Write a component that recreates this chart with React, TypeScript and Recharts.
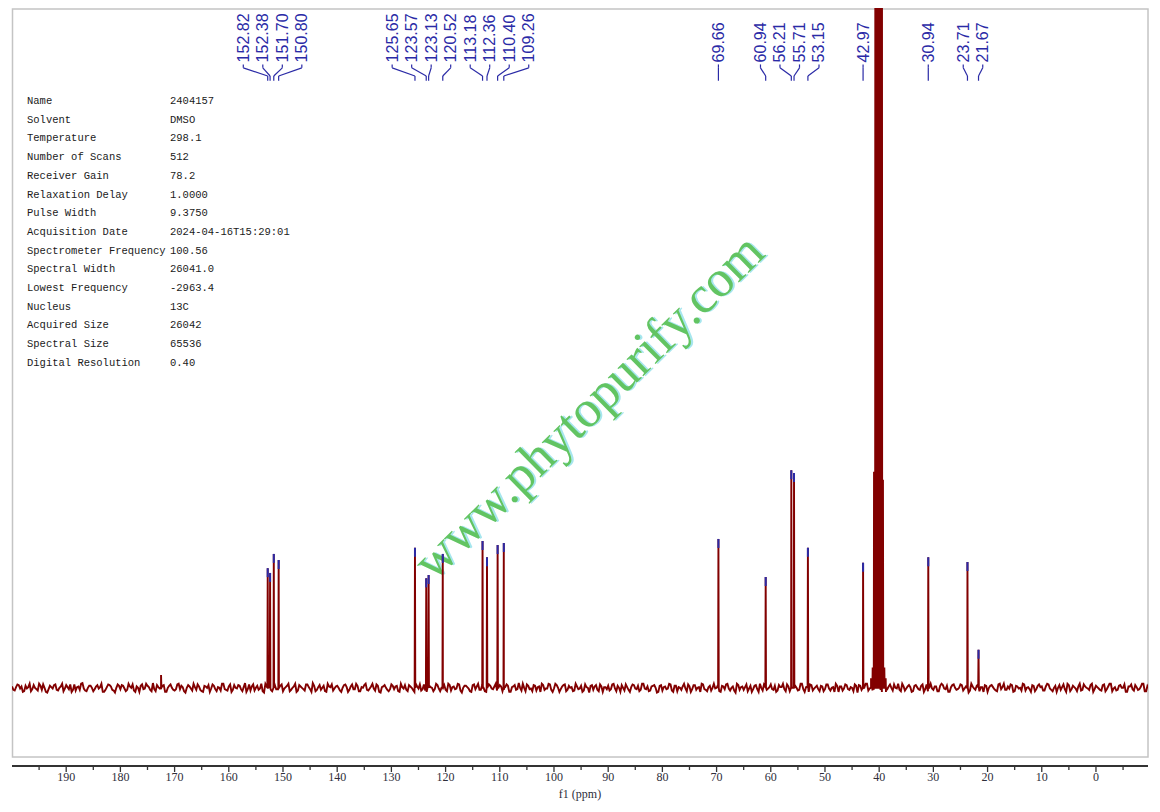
import React from 'react';
import { LineChart, Line, XAxis, YAxis, ReferenceDot, ReferenceLine } from 'recharts';

// ---- data ----
const PEAK_PPM = [152.82, 152.38, 151.70, 150.80, 125.65, 123.57, 123.13, 120.52, 113.18, 112.36, 110.40, 109.26, 69.66, 60.94, 56.21, 55.71, 53.15, 42.97, 30.94, 23.71, 21.67];
const PEAK_HEIGHT = [176, 169, 197, 188, 206, 161, 166, 197, 216, 192, 210, 213, 219, 163, 320, 316, 206, 184, 192, 185, 56];

const OTHER_PPM = [172.5];
const OTHER_HEIGHT = [19];

const SOLVENT_PPM = [41.5, 41.2, 40.95, 40.7, 40.5, 40.35, 40.22, 40.05, 39.9, 39.7, 39.5, 39.3, 39.05, 38.8];
const SOLVENT_HEIGHT = [14, 30, 318, 1500, 1500, 1500, 118, 1500, 1500, 1500, 1500, 306, 30, 14];

// baseline noise, first set every 0.5 ppm from 200 down to -10
const NOISE_A_START = 200;
const NOISE_STEP = 0.5;
const NOISE_A = [
  2, -4, 5, -1, -6, 3, 1, -5, 4, -2, 6, -3, 0, -7, 3, -1, 5, -4, 2, -5,
  4, -2, -6, 5, 1, -3, 7, -4, 0, 3, -5, 2, -1, 6, -6, 1, 4, -3, -7, 5,
  -2, 3, -5, 6, 0, -4, 2, -6, 5, -1, 3, -3, 7, -5, 1, -2, 4, -6, 3, 0,
  -4, 5, -2, 1, -7, 4, -1, 6, -3, 2, -5, 3, 0, -6, 5, -2, 1, -4, 6, -3,
  2, -6, 4, -1, 3, -5, 7, -2, -4, 5, 0, -3, 6, -7, 2, 1, -5, 4, -2, 3,
  -5, 1, 6, -3, 2, -6, 4, 0, -4, 5, -2, 7, -5, 1, -3, 3, -6, 2, 5, -1,
  3, -4, 0, 5, -6, 2, -2, 6, -5, 1, 4, -3, -1, 6, -4, 3, -7, 2, 0, -5,
  5, -2, 3, -6, 1, 4, -5, 2, -3, 6, -1, -4, 5, -6, 3, 0, -2, 4, -5, 1,
  -3, 6, -4, 2, -1, 5, -7, 3, 1, -5, 4, -2, 6, -3, 0, -6, 5, -1, 2, -4,
  4, -5, 1, 3, -6, 2, -3, 7, -4, 0, 5, -2, -5, 3, 1, -6, 4, -1, 6, -3,
  -1, 4, -6, 2, 5, -3, 0, -5, 6, -2, 3, -4, 1, -7, 4, 2, -3, 5, -6, 1,
  3, -2, 6, -5, 0, 4, -4, 1, -6, 5, -1, 3, -3, 6, -2, -5, 2, 4, -7, 3,
  -4, 2, -1, 5, -6, 3, 1, -3, 6, -5, 2, -2, 4, 0, -6, 5, -3, 1, -4, 6,
  0, -5, 3, -2, 6, -4, 2, -7, 4, 1, -3, 5, -1, -6, 3, -2, 6, -4, 2, -1,
  5, -3, -6, 4, 1, -2, 5, -5, 0, 3, -4, 6, -2, 1, -6, 4, -1, 3, -5, 2,
  -2, 5, -4, 1, 6, -6, 2, -1, 4, -3, 0, 5, -7, 3, -2, 6, -4, 1, -3, 4,
  1, -6, 3, -2, 5, -4, 0, 6, -5, 2, -1, 4, -6, 3, 1, -3, 5, -2, -5, 6,
  -3, 2, -5, 6, -1, 3, -6, 4, 0, -2, 5, -4, 2, -7, 6, -1, 3, -5, 1, 4,
  -6, 3, 1, -4, 5, -2, 6, -3, -1, 4, -5, 2, 0, 6, -4, 1, -6, 3, -2, 5,
  2, -4, 6, -1, -5, 3, 0, -3, 5, -6, 4, -2, 1, -5, 6, -3, 2, -1, 4, -6,
  3, -1, -4, 5, -2, 6, -5, 1, -3, 4, 0, -6, 2, 5, -4, 1, -2, 6, -5, 3,
  0,
];
// second set, every 0.5 ppm from 199.75 down to -9.75
const NOISE_B_START = 199.75;
const NOISE_B = [
  -3, 1, 4, 2, -5, -1, 6, -2, 0, -4, 3, 5, -6, -2, 1, 4, -3, 0, 6, -1,
  1, 5, -3, -4, 2, 6, -1, -5, 3, 0, -2, 4, 1, -6, -3, 5, 2, -4, 0, 3,
  4, -1, -3, 2, 5, -6, 0, 3, -2, 6, 1, -5, -2, 4, -1, 3, -6, 0, 5, -3,
  -2, 6, 3, -5, 0, 2, -4, 1, 5, -3, -6, 2, 4, -1, 3, -5, 0, 6, -2, -4,
  5, -3, 0, 4, -2, 1, -6, 5, 2, -4, 3, -1, -5, 6, 0, -3, 4, -2, 1, 5,
  -1, 3, -5, 0, 6, -4, 2, -2, 5, 1, -6, 3, -3, 4, 0, -5, 6, 1, -4, 2,
  0, -6, 4, 1, -3, 5, -2, 3, -5, 0, 6, -4, 2, -1, 5, -6, 1, 4, -3, -2,
  3, 2, -5, 6, -1, -3, 4, 0, -6, 2, 5, -2, -4, 3, 1, -5, 6, -1, 0, 4,
  -5, 4, 1, -2, 6, -4, 0, 3, -1, -6, 5, 2, -3, 4, -5, 1, 3, -2, 6, 0,
  2, -3, 5, -6, 1, 4, -2, 0, 6, -5, 3, -1, 4, -4, 2, 6, -3, -1, 5, -6,
  6, 0, -2, 4, -5, 3, 1, -4, 2, -1, -6, 5, 0, 3, -3, 4, -5, 2, 1, -2,
  -4, 5, -1, 3, -6, 0, 5, -3, 1, 4, -2, -5, 6, -1, 2, -4, 3, 0, -6, 4,
  1, -2, 6, -4, 3, -5, 0, 2, -1, 5, -6, 4, -3, 1, 6, -2, -5, 3, 0, -1,
  4, -6, 2, 5, -1, 0, -4, 6, -3, 2, 1, -5, 3, -2, 4, -6, 0, 5, -3, 1,
  -2, 3, -4, 1, 6, -5, 2, -1, 4, 0, -3, 6, -6, 2, 5, -4, 1, -2, 3, -5,
  5, -1, 0, -6, 3, 2, -4, 5, -2, 1, -5, 3, 4, -3, 0, 6, -1, -4, 2, 5,
  -3, 4, -6, 2, 0, 5, -1, -3, 6, -4, 2, 1, -5, 4, -2, 3, -6, 5, 0, -1,
  2, -5, 3, 4, -2, -6, 1, 5, -3, 0, 4, -1, 6, -4, 2, -3, 5, 1, -6, 3,
  0, 4, -2, -5, 6, 1, -3, 2, 5, -6, 3, -1, -4, 5, 0, -2, 4, -5, 3, 1,
  -4, 2, 5, -3, 0, -6, 4, 1, -2, 6, -5, 3, -1, 2, -4, 5, 0, -3, 6, -2,
  1, -3, 4, -5, 2, 6, -1, -4, 3, 0, 5, -6, 2, -2, 4, -3, 1, 6, -5, 0,
];

const X_TICKS = [195, 190, 185, 180, 175, 170, 165, 160, 155, 150, 145, 140, 135, 130, 125, 120, 115, 110, 105, 100, 95, 90, 85, 80, 75, 70, 65, 60, 55, 50, 45, 40, 35, 30, 25, 20, 15, 10, 5, 0, -5];

const PARAM_NAMES = ['Name', 'Solvent', 'Temperature', 'Number of Scans', 'Receiver Gain', 'Relaxation Delay', 'Pulse Width', 'Acquisition Date', 'Spectrometer Frequency', 'Spectral Width', 'Lowest Frequency', 'Nucleus', 'Acquired Size', 'Spectral Size', 'Digital Resolution'];
const PARAM_VALUES = ['2404157', 'DMSO', '298.1', '512', '78.2', '1.0000', '9.3750', '2024-04-16T15:29:01', '100.56', '26041.0', '-2963.4', '13C', '26042', '65536', '0.40'];

// ---- styles ----
const RED = '#820000';
const BLUE = '#2a2aa6';
const LABEL_GAP_PPM = 3.6;
const SERIF = "'Liberation Serif', 'Times New Roman', serif";

// ---- build spectrum ----
type Pt = { ppm: number; v: number };
function buildSpectrum(): Pt[] {
  const pts: Pt[] = [];
  NOISE_A.forEach((v, i) => pts.push({ ppm: NOISE_A_START - i * NOISE_STEP, v }));
  NOISE_B.forEach((v, i) => pts.push({ ppm: NOISE_B_START - i * NOISE_STEP, v }));
  const addSpike = (p: number, h: number) => {
    pts.push({ ppm: p + 0.06, v: 0 });
    pts.push({ ppm: p, v: h });
    pts.push({ ppm: p - 0.06, v: 0 });
  };
  PEAK_PPM.forEach((p, i) => addSpike(p, PEAK_HEIGHT[i]));
  OTHER_PPM.forEach((p, i) => addSpike(p, OTHER_HEIGHT[i]));
  SOLVENT_PPM.forEach((p, i) => addSpike(p, SOLVENT_HEIGHT[i]));
  pts.sort((a, b) => b.ppm - a.ppm);
  return pts;
}
const spectrum = buildSpectrum();

function spreadLabels(ppms: number[], gap: number): number[] {
  type C = { members: number[]; center: number };
  const clusters: C[] = ppms.map((p) => ({ members: [p], center: p }));
  let changed = true;
  while (changed) {
    changed = false;
    for (let i = 0; i < clusters.length - 1; i++) {
      const a = clusters[i];
      const b = clusters[i + 1];
      const aLow = a.center - ((a.members.length - 1) * gap) / 2;
      const bHigh = b.center + ((b.members.length - 1) * gap) / 2;
      if (aLow - bHigh < gap) {
        const members = [...a.members, ...b.members];
        const center = members.reduce((s, v) => s + v, 0) / members.length;
        clusters.splice(i, 2, { members, center });
        changed = true;
        break;
      }
    }
  }
  const out: number[] = [];
  clusters.forEach((c) =>
    c.members.forEach((_, k) => out.push(c.center + ((c.members.length - 1) / 2 - k) * gap))
  );
  return out;
}
const labelPpm = spreadLabels(PEAK_PPM, LABEL_GAP_PPM);

const AxisTick = (props: any) => {
  const { x, y, payload } = props;
  const v = payload.value;
  const major = v % 10 === 0;
  return (
    <g>
      <line x1={x} x2={x} y1={y} y2={y + (major ? 6 : 4)} stroke="#333" strokeWidth={1.3} />
      {major && (
        <text x={x} y={y + 15} textAnchor="middle" fontSize={12} fontFamily={SERIF} fill="#2e2e3a">
          {v}
        </text>
      )}
    </g>
  );
};

export default function App() {
  return (
    <div style={{ position: 'absolute', left: 0, top: 0, width: 1160, height: 812, background: '#fff' }}>
      <svg width={1160} height={812} style={{ position: 'absolute', left: 0, top: 0 }}>
        <rect x={12.5} y={9} width={1135.5} height={748} fill="none" stroke="#c4c4c4" strokeWidth={1.5} />
        {PARAM_NAMES.map((n, i) => (
          <g key={n}>
            <text x={27} y={101 + i * 18.7} dominantBaseline="central" fontSize={10.5} fontFamily="'Liberation Mono', 'Courier New', monospace" fill="#1a1a1a">
              {n}
            </text>
            <text x={170} y={101 + i * 18.7} dominantBaseline="central" fontSize={10.5} fontFamily="'Liberation Mono', 'Courier New', monospace" fill="#1a1a1a">
              {PARAM_VALUES[i]}
            </text>
          </g>
        ))}
        <g transform="rotate(-44.5 588 406)">
          <text x={589.5} y={407.5} textAnchor="middle" dominantBaseline="central" fontSize={52} fontFamily={SERIF} fill="#a6e6ee">
            www.phytopurify.com
          </text>
          <text x={588} y={406} textAnchor="middle" dominantBaseline="central" fontSize={52} fontFamily={SERIF} fill="#62c462">
            www.phytopurify.com
          </text>
        </g>
      </svg>
      <div style={{ position: 'absolute', left: 0, top: 0 }}>
        <LineChart width={1160} height={812} data={spectrum} margin={{ top: 8, right: 12, bottom: 6, left: 12 }}>
          <XAxis
            dataKey="ppm"
            type="number"
            domain={[-9.6, 200]}
            reversed
            allowDataOverflow
            ticks={X_TICKS}
            interval={0}
            tick={<AxisTick />}
            tickLine={false}
            tickSize={0}
            tickMargin={0}
            axisLine={{ stroke: '#333', strokeWidth: 1.8 }}
            height={40}
            label={{ value: 'f1 (ppm)', position: 'insideBottom', offset: 8, fill: '#2e2e3a', fontSize: 12, fontFamily: SERIF }}
          />
          <YAxis type="number" domain={[-115, 1000]} allowDataOverflow hide width={0} />
          <Line dataKey="v" type="linear" stroke={RED} strokeWidth={1.9} dot={false} isAnimationActive={false} />
          {PEAK_PPM.map((p, i) => (
            <ReferenceDot
              key={'m' + p}
              x={p}
              y={PEAK_HEIGHT[i]}
              r={1}
              shape={(s: any) => <line x1={s.cx} x2={s.cx} y1={s.cy} y2={s.cy + 9} stroke={BLUE} strokeWidth={2} />}
            />
          ))}
          {PEAK_PPM.map((p, i) => (
            <ReferenceLine key={'a' + p} segment={[{ x: labelPpm[i], y: 917 }, { x: labelPpm[i], y: 912 }]} stroke={BLUE} strokeWidth={1.2} />
          ))}
          {PEAK_PPM.map((p, i) => (
            <ReferenceLine key={'b' + p} segment={[{ x: labelPpm[i], y: 912 }, { x: p, y: 900 }]} stroke={BLUE} strokeWidth={1.2} />
          ))}
          {PEAK_PPM.map((p) => (
            <ReferenceLine key={'c' + p} segment={[{ x: p, y: 900 }, { x: p, y: 893 }]} stroke={BLUE} strokeWidth={1.2} />
          ))}
          {PEAK_PPM.map((p, i) => (
            <ReferenceDot
              key={'t' + p}
              x={labelPpm[i]}
              y={920}
              r={1}
              shape={(s: any) => (
                <text
                  x={s.cx}
                  y={s.cy}
                  transform={`rotate(-90 ${s.cx} ${s.cy})`}
                  textAnchor="start"
                  dominantBaseline="central"
                  fontSize={16}
                  fontFamily="'Liberation Sans', Arial, sans-serif"
                  fill={BLUE}
                >
                  {p.toFixed(2)}
                </text>
              )}
            />
          ))}
        </LineChart>
      </div>
    </div>
  );
}
